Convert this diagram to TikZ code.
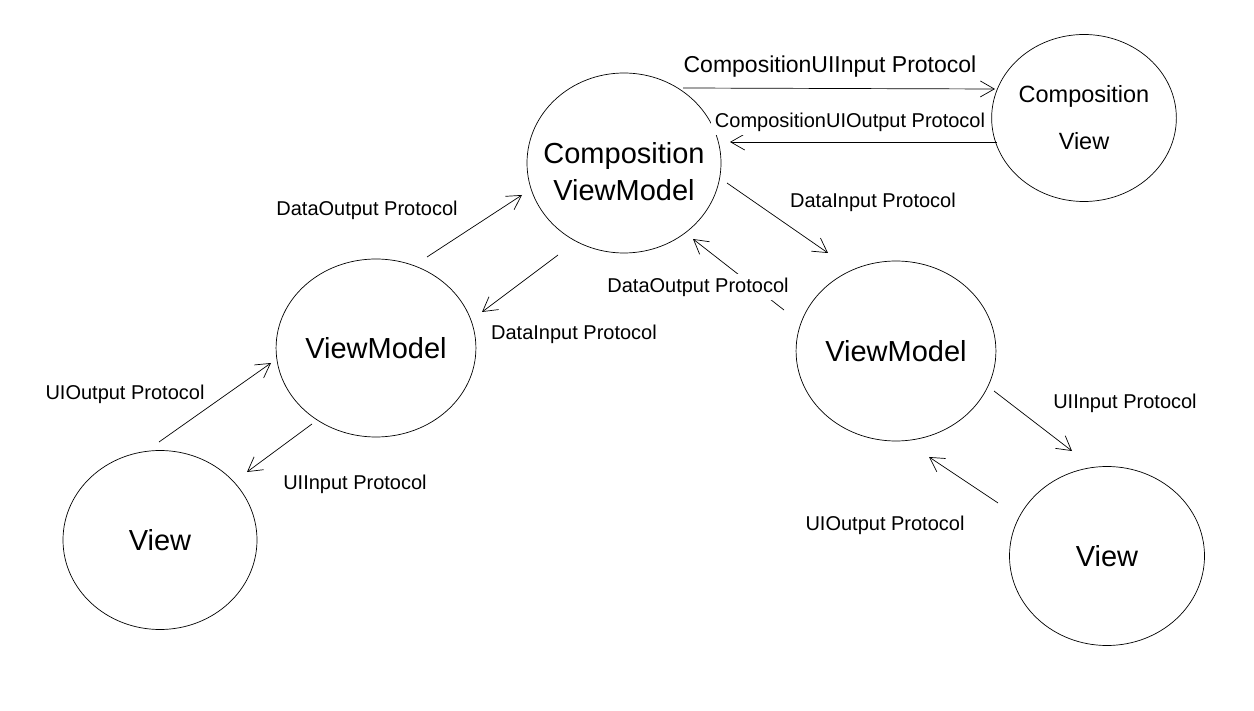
\documentclass[tikz,border=0pt]{standalone}
\usepackage{fontspec}
\setmainfont{Liberation Sans}
\usetikzlibrary{shapes.geometric,arrows.meta}
\begin{document}
\begin{tikzpicture}[x=1pt,y=-1pt,
  bubble/.style={draw, ellipse, line width=0.7pt, inner sep=0pt,
    minimum width=194pt, minimum height=180pt,
    font=\fontsize{29}{37}\selectfont, align=center},
  flow/.style={draw, line width=0.7pt,
    -{Straight Barb[length=14pt,width=16pt,line width=0.7pt]}},
  lab/.style={fill=white, inner sep=3.5pt, font=\fontsize{20}{24}\selectfont},
]
\fill[white] (0,0) rectangle (1254,711);
\useasboundingbox (0,0) rectangle (1254,711);

% nodes
\node[bubble, label={[align=center, font=\fontsize{29}{37}\selectfont, yshift=-9pt]center:{Composition\\ViewModel}}] (cvm) at (624,163) {};
\node[bubble, minimum width=182pt, minimum height=167pt,
      font=\fontsize{23.5}{47}\selectfont] (cv) at (1084,118) {Composition\\View};
\node[bubble, minimum height=178pt] (lvm) at (376,348) {ViewModel};
\node[bubble] (rvm) at (896,351) {ViewModel};
\node[bubble, minimum height=179pt] (lv) at (160,540) {View};
\node[bubble, minimum width=195pt, minimum height=179pt] (rv) at (1107,556) {View};

% connector end points
\coordinate (a1s) at (683,88);  \coordinate (a1e) at (995,89);
\coordinate (a2s) at (997,142); \coordinate (a2e) at (730,142);
\coordinate (a3s) at (727,183); \coordinate (a3e) at (828,253);
\coordinate (a4s) at (784,310); \coordinate (a4e) at (693,239);
\coordinate (a5s) at (427,257); \coordinate (a5e) at (522,195);
\coordinate (a6s) at (558,255); \coordinate (a6e) at (482,312);
\coordinate (a7s) at (159,442); \coordinate (a7e) at (271,363);
\coordinate (a8s) at (312,424); \coordinate (a8e) at (247,472);
\coordinate (a9s) at (994,391); \coordinate (a9e) at (1072,451);
\coordinate (a10s) at (998,503); \coordinate (a10e) at (929,457);

% connectors
\draw[flow] (a1s) -- (a1e);
\draw[flow] (a2s) -- (a2e);
\draw[flow] (a3s) -- (a3e);
\draw[flow] (a4s) -- (a4e);
\draw[flow] (a5s) -- (a5e);
\draw[flow] (a6s) -- (a6e);
\draw[flow] (a7s) -- (a7e);
\draw[flow] (a8s) -- (a8e);
\draw[flow] (a9s) -- (a9e);
\draw[flow] (a10s) -- (a10e);

% labels
\node[lab, font=\fontsize{23}{27}\selectfont] (l1) at (830,67) {CompositionUIInput Protocol};
\node[lab] (l2) at (850,122) {CompositionUIOutput Protocol};
\node[lab] (l3) at (873,202) {DataInput Protocol};
\node[lab] (l4) at (698,287) {DataOutput Protocol};
\node[lab] (l5) at (367,210) {DataOutput Protocol};
\node[lab] (l6) at (574,334) {DataInput Protocol};
\node[lab] (l7) at (125,394) {UIOutput Protocol};
\node[lab] (l8) at (355,484) {UIInput Protocol};
\node[lab] (l9) at (1125,403) {UIInput Protocol};
\node[lab] (l10) at (885,525) {UIOutput Protocol};
\end{tikzpicture}
\end{document}
